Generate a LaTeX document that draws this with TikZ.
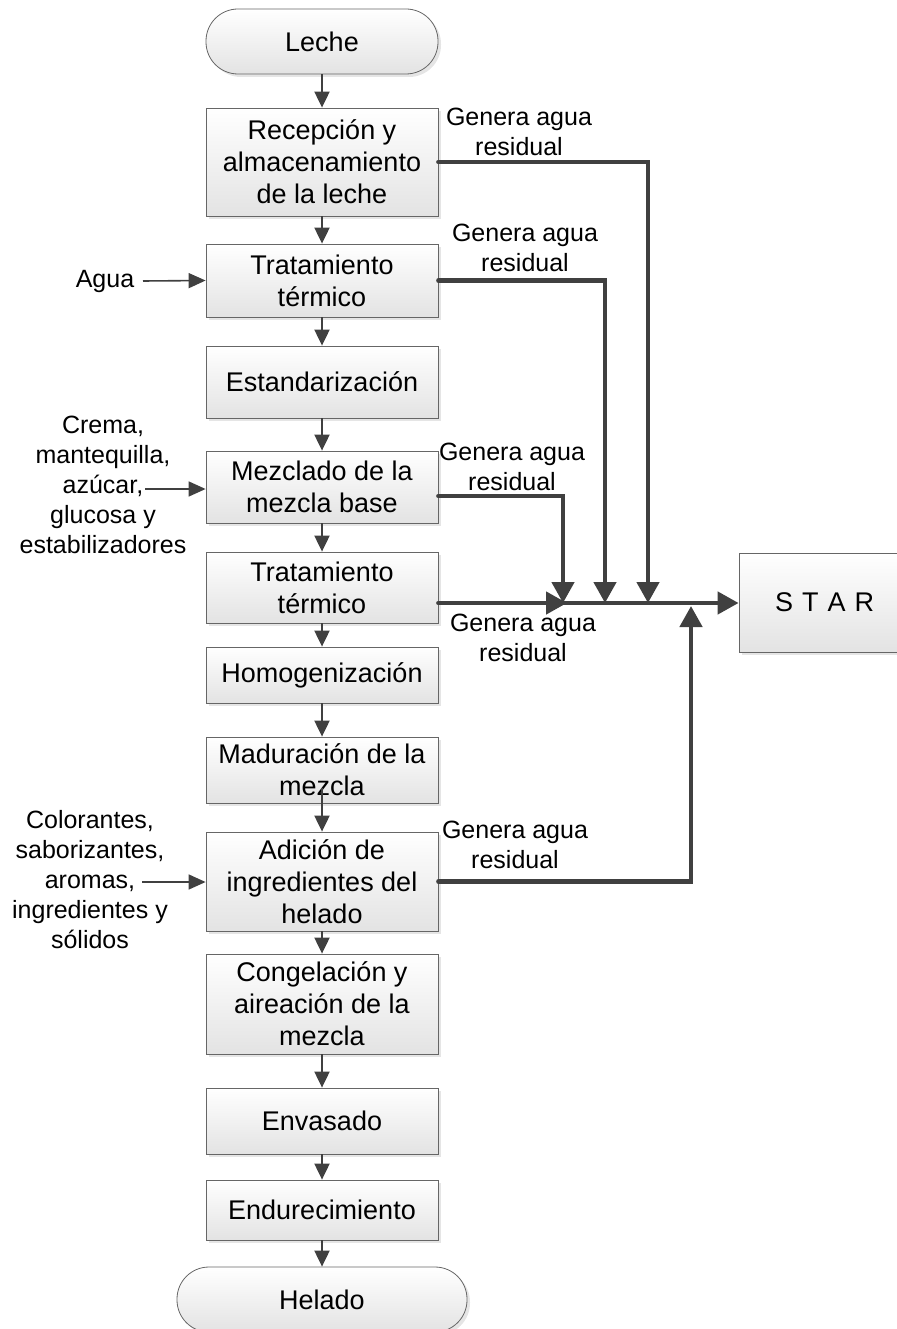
\documentclass[tikz,border=0pt]{standalone}
\usepackage{fontspec}
\setmainfont{Liberation Sans}
\usetikzlibrary{arrows.meta,shadows,calc}
\begin{document}
\begin{tikzpicture}[x=1pt,y=-1pt,
  proc/.style={draw=black!60, line width=0.8pt, top color=white, bottom color=black!11,
    drop shadow={shadow xshift=3pt, shadow yshift=-3pt, fill=black!20},
    minimum width=232pt, align=center, inner sep=0pt,
    font=\fontsize{27}{32}\selectfont},
  term/.style={proc, rounded corners=32pt},
  flow/.style={draw=black!75, line width=2pt, -{Triangle[length=16pt,width=15pt]}},
  feed/.style={draw=black!75, line width=1.6pt, -{Triangle[length=17pt,width=15pt]}},
  waste/.style={draw=black!75, line width=4.5pt, line cap=round,
    -{Triangle[length=21pt,width=22pt]}},
  side/.style={align=center, inner sep=0pt, font=\fontsize{25}{30}\selectfont},
]
\useasboundingbox (0,0) rectangle (896,1329);

% main process column
\node[term] (leche) at (322,41.5) [minimum height=65pt] {Leche};
\node[proc] (rec) at (322,162) [minimum height=108pt] {Recepción y\\almacenamiento\\de la leche};
\node[proc] (tt1) at (322,280.5) [minimum height=73pt] {Tratamiento\\térmico};
\node[proc] (est) at (322,382) [minimum height=72pt] {Estandarización};
\node[proc] (mez) at (322,487) [minimum height=72pt] {Mezclado de la\\mezcla base};
\node[proc] (tt2) at (322,587.5) [minimum height=71pt] {Tratamiento\\térmico};
\node[proc] (hom) at (322,675) [minimum height=56pt] {Homogenización};
\node[proc] (mad) at (322,770) [minimum height=66pt] {Maduración de la\\mezcla};
\node[proc] (adi) at (322,881.5) [minimum height=99pt] {Adición de\\ingredientes del\\helado};
\node[proc] (con) at (322,1004) [minimum height=100pt] {Congelación y\\aireación de la\\mezcla};
\node[proc] (env) at (322,1121) [minimum height=66pt] {Envasado};
\node[proc] (endu) at (322,1210) [minimum height=60pt] {Endurecimiento};
\node[term, minimum width=290pt] (hel) at (322,1299.5) [minimum height=65pt] {Helado};

% wastewater treatment plant (runs past the right edge)
\node[proc, minimum width=0pt, text width=150pt, align=left, inner xsep=36pt]
  (star) at (850,602.5) [minimum height=99pt] {S T A R};

% main flow
\draw[flow] (leche) -- (rec);
\draw[flow] (rec) -- (tt1);
\draw[flow] (tt1) -- (est);
\draw[flow] (est) -- (mez);
\draw[flow] (mez) -- (tt2);
\draw[flow] (tt2) -- (hom);
\draw[flow] (hom) -- (mad);
\draw[flow] ([yshift=15pt]mad.south) -- (adi.north);
\draw[flow] (adi) -- (con);
\draw[flow] (con) -- (env);
\draw[flow] (env) -- (endu);
\draw[flow] (endu) -- (hel);

% inputs
\node[side] (in1) at (105,281) {Agua};
\node[side] (in2) at (103,485) {Crema,\\mantequilla,\\azúcar,\\glucosa y\\estabilizadores};
\node[side] (in3) at (90,880) {Colorantes,\\saborizantes,\\aromas,\\ingredientes y\\sólidos};
\coordinate (in1a) at (143,281);
\coordinate (in2a) at (145,489);
\coordinate (in3a) at (142,882);
\draw[feed] (in1a) -- (tt1.west);
\draw[feed] (in2a) -- (in2a -| mez.west);
\draw[feed] (in3a) -- (in3a -| adi.west);

% wastewater collectors
\coordinate (j1) at (648,603);
\coordinate (j2) at (605,603);
\coordinate (j3) at (563,603);
\coordinate (j4) at (691,606);
\draw[waste] (rec.east) -| (j1);
\draw[waste] (tt1.east) -| (j2);
\draw[waste] ([yshift=-9pt]mez.east) -| (j3);
\draw[waste] (j3 -| tt2.east) -- ([xshift=4pt]j3);
\draw[waste] (j3) -- (j3 -| star.west);
\draw[waste] (adi.east) -| (j4);

% labels
\node[side] (l1) at (519,132) {Genera agua\\residual};
\node[side] (l2) at (525,248) {Genera agua\\residual};
\node[side] (l3) at (512,467) {Genera agua\\residual};
\node[side] (l4) at (523,638) {Genera agua\\residual};
\node[side] (l5) at (515,845) {Genera agua\\residual};
\end{tikzpicture}
\end{document}
